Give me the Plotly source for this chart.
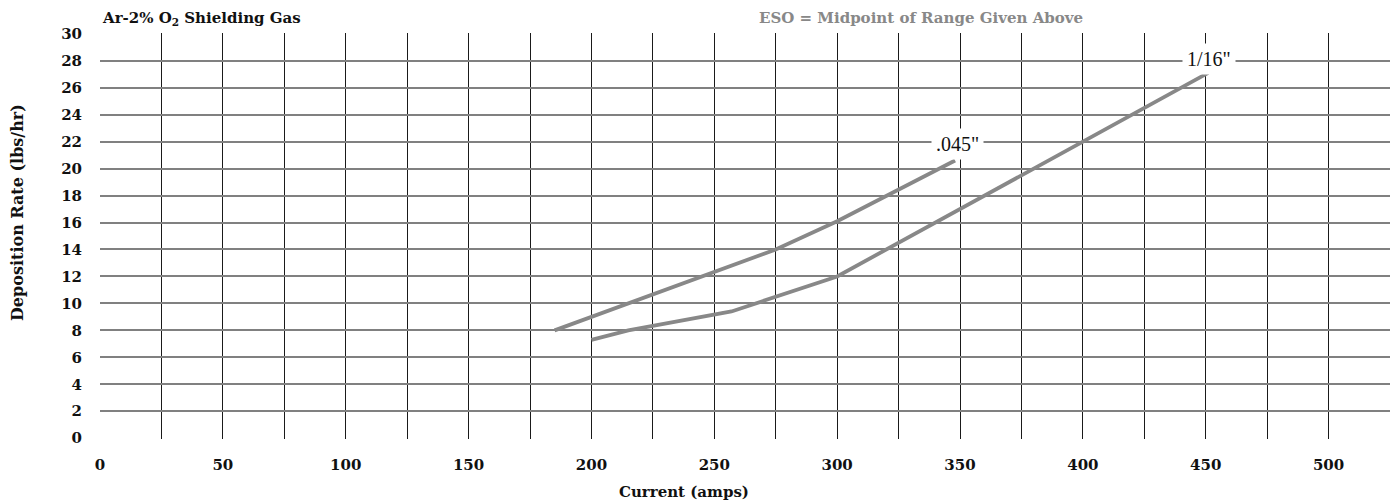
import plotly.graph_objects as go

# Data
wire_sizes = ['.045"', '1/16"']
x_045 = [185, 275, 300, 348]
y_045 = [8.0, 14.0, 16.1, 20.6]
x_116 = [200, 215, 257, 300, 451]
y_116 = [7.3, 8.0, 9.4, 12.0, 27.1]
label_pos = [(349, 21.8), (451.5, 28.1)]

x_ticks = list(range(0, 501, 50))
x_grid = list(range(25, 501, 25))
y_ticks = list(range(0, 31, 2))

title_left = 'Ar-2% O<sub>2</sub> Shielding Gas'
title_right = 'ESO = Midpoint of Range Given Above'
x_title = 'Current (amps)'
y_title = 'Deposition Rate (lbs/hr)'

LINE = '#888888'
FONT = 'DejaVu Serif'

fig = go.Figure()
for xs, ys, name in [(x_045, y_045, wire_sizes[0]), (x_116, y_116, wire_sizes[1])]:
    fig.add_trace(go.Scatter(x=xs, y=ys, mode='lines', name=name,
                             line=dict(color=LINE, width=3.8), showlegend=False,
                             hoverinfo='skip'))

for (lx, ly), txt in zip(label_pos, wire_sizes):
    fig.add_annotation(x=lx, y=ly, xref='x', yref='y', text=txt, showarrow=False,
                       font=dict(family='Liberation Serif', size=20, color='#111'),
                       bgcolor='white', borderpad=4)

fig.add_annotation(x=0, y=1.0, xref='paper', yref='paper', xanchor='left', yanchor='bottom',
                   yshift=3, text='<b>' + title_left + '</b>', showarrow=False,
                   font=dict(family=FONT, size=15, color='#111'))
fig.add_annotation(x=821 / 1290, y=1.0, xref='paper', yref='paper', xanchor='center',
                   yanchor='bottom', yshift=4, text='<b>' + title_right + '</b>',
                   showarrow=False, font=dict(family=FONT, size=15, color='#888888'))
fig.add_annotation(x=584 / 1290, y=0, xref='paper', yref='paper', xanchor='center',
                   yanchor='middle', yshift=-53, text='<b>' + x_title + '</b>',
                   showarrow=False, font=dict(family=FONT, size=15, color='#111'))
fig.add_annotation(x=0, y=(439 - 213) / 406, xref='paper', yref='paper', xanchor='center',
                   yanchor='middle', xshift=-83, textangle=-90, text='<b>' + y_title + '</b>',
                   showarrow=False, font=dict(family=FONT, size=16, color='#111'))

fig.update_layout(
    width=1395, height=502,
    margin=dict(l=100, r=5, t=33, b=63),
    plot_bgcolor='white', paper_bgcolor='white',
    xaxis=dict(range=[0, 525], tickvals=x_ticks, ticktext=[f'<b>{v}</b>' for v in x_ticks],
               showgrid=False, zeroline=False, showline=False, ticks='',
               ticklabelstandoff=15,
               tickfont=dict(family=FONT, size=15, color='#111'),
               minor=dict(tickvals=x_grid, showgrid=True, gridcolor='#1a1a1a', gridwidth=1,
                          ticks='')),
    yaxis=dict(range=[-0.06, 30.06], tickvals=y_ticks, ticktext=[f'<b>{v}</b>' for v in y_ticks],
               showgrid=True, gridcolor='#808080', gridwidth=2, zeroline=False,
               showline=False, ticks='', ticklabelstandoff=17,
               tickfont=dict(family=FONT, size=15, color='#111')),
)

fig.write_html('out.html', config={'displayModeBar': False},
               post_script="document.body.style.margin='0';")
